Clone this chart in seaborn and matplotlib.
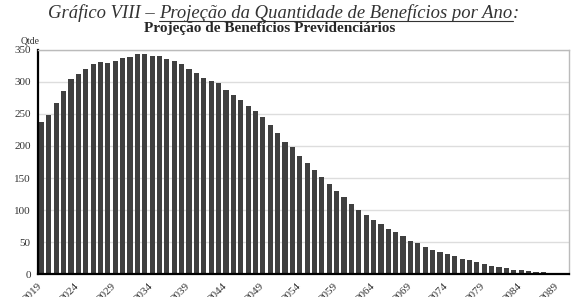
import numpy as np
import pandas as pd
import matplotlib
matplotlib.use("Agg")
import matplotlib.pyplot as plt
import seaborn as sns

# data
years = [str(y) for y in range(2019, 2091)]
qtde = [238, 248, 267, 286, 305, 313, 320, 328, 331, 330,
        332, 338, 339, 344, 343, 341, 340, 336, 333, 328,
        320, 314, 306, 302, 299, 288, 280, 272, 262, 255,
        245, 233, 220, 207, 198, 185, 173, 163, 151, 140,
        130, 120, 110, 100, 93, 85, 78, 71, 65, 59,
        52, 48, 43, 38, 34, 31, 28, 24, 22, 19,
        16, 13, 11, 9, 7, 6, 5, 4, 3, 1.5,
        0.8, 0.3]
tick_years = years[::5]
y_ticks = [0, 50, 100, 150, 200, 250, 300, 350]

df = pd.DataFrame({"ano": years, "qtde": qtde})

sns.set_style("white")
plt.rcParams["font.family"] = ["Liberation Serif", "DejaVu Serif"]

fig = plt.figure(figsize=(5.72, 2.97), dpi=100)
ax = fig.add_axes([0.066, 0.077, 0.929, 0.755])

sns.barplot(data=df, x="ano", y="qtde", color="#404040", saturation=1,
            width=0.7, edgecolor="none", ax=ax)

ax.set_ylim(0, 350)
ax.set_xlim(-0.5, len(years) - 0.5)
ax.set_yticks(y_ticks)
ax.set_yticklabels([str(v) for v in y_ticks], fontsize=8, color="#333333")
ax.set_xticks([i * 5 - 0.5 for i in range(len(tick_years))])
ax.set_xticklabels(tick_years, rotation=45, ha="right", fontsize=8,
                   color="#333333", rotation_mode="anchor")
ax.tick_params(axis="both", direction="out", length=3, width=1.2, color="black", pad=2)
ax.yaxis.grid(True, color="#dddddd", linewidth=1)
ax.set_axisbelow(True)
ax.set_xlabel("")
ax.set_ylabel("")
for s in ["left", "bottom"]:
    ax.spines[s].set_color("black")
    ax.spines[s].set_linewidth(1.6)
for s in ["top", "right"]:
    ax.spines[s].set_color("#bbbbbb")
    ax.spines[s].set_linewidth(1)

fig.text(0.052, 0.855, "Qtde", fontsize=7, color="#333333", ha="center")
fig.text(0.472, 0.903, "Projeção de Benefícios Previdenciários", fontsize=11,
         fontweight="bold", ha="center", va="center")

# header with underlined part
fig.canvas.draw()
r = fig.canvas.get_renderer()
hy = 0.94
x0 = 48 / 572
parts = [("Gráfico VIII – ", False), ("Projeção da Quantidade de Benefícios por Ano", True), (":", False)]
x = x0
for txt, ul in parts:
    t = fig.text(x, hy, txt, fontsize=13.4, style="italic", color="#333333", ha="left", va="baseline")
    bb = t.get_window_extent(renderer=r)
    w = bb.width / fig.bbox.width
    if ul:
        fig.add_artist(plt.Line2D([x, x + w], [hy - 0.012, hy - 0.012], transform=fig.transFigure,
                                  color="#333333", linewidth=0.8))
    x += w

plt.savefig("out.png", dpi=100)
